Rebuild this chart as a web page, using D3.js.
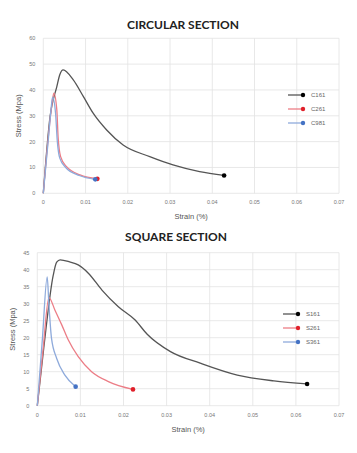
<!DOCTYPE html>
<html>
<head>
<meta charset="utf-8">
<script src="https://cdn.jsdelivr.net/npm/d3@7"></script>
<style>
  body { margin: 0; background: #fff; }
  text { font-family: "Liberation Sans", Arial, sans-serif; }
</style>
</head>
<body>
<script>
// tick labels
var strainTicks = [0, 0.01, 0.02, 0.03, 0.04, 0.05, 0.06, 0.07];
var circStressTicks = [0, 10, 20, 30, 40, 50, 60];
var sqStressTicks = [0, 5, 10, 15, 20, 25, 30, 35, 40, 45];

// circular section series (strain, stress)
var c161Strain = [0, 0.0016, 0.0032, 0.0039, 0.0047, 0.0071, 0.0095, 0.0118, 0.015, 0.0189, 0.0252, 0.0307, 0.037, 0.0428];
var c161Stress = [0, 29.7, 41.3, 45.9, 47.8, 43.9, 37.4, 31, 24.5, 18.7, 14.2, 11.0, 8.4, 6.9];
var c261Strain = [0, 0.0012, 0.002, 0.0025, 0.0032, 0.0035, 0.0041, 0.0055, 0.0087, 0.0128];
var c261Stress = [0, 22, 34, 38.8, 32.3, 21.9, 14.2, 10.3, 7.1, 5.6];
var c981Strain = [0, 0.0012, 0.0018, 0.0022, 0.0029, 0.0033, 0.0039, 0.0053, 0.0085, 0.0123];
var c981Stress = [0, 21, 32, 37.2, 31, 20.5, 13.6, 10, 6.9, 5.4];

// square section series
var s161Strain = [0, 0.0015, 0.0037, 0.0045, 0.0053, 0.0075, 0.0095, 0.0119, 0.015, 0.0188, 0.0227, 0.0255, 0.0309, 0.0378, 0.0464, 0.0549, 0.0626];
var s161Stress = [0, 17, 38.4, 42.2, 42.9, 42.3, 41.4, 38.9, 34, 29.1, 25.2, 21.0, 15.9, 12.5, 9.0, 7.3, 6.4];
var s261Strain = [0, 0.0013, 0.0027, 0.0041, 0.0057, 0.0072, 0.0095, 0.0126, 0.0165, 0.0222];
var s261Stress = [0, 16, 31.8, 28.1, 23.7, 19.3, 14.4, 10, 7.1, 4.8];
var s361Strain = [0, 0.0012, 0.0023, 0.0027, 0.0033, 0.0045, 0.0064, 0.0089];
var s361Stress = [0, 20, 37.9, 29.6, 19.8, 13.9, 9.0, 5.6];

var circNames = ["C161", "C261", "C981"];
var sqNames = ["S161", "S261", "S361"];
var lineColors = ["#555555", "#ec7d86", "#8eaadb"];
var dotColors = ["#000000", "#e0202a", "#4472c4"];

function zipSeries(xs, ys) {
    return xs.map(function(x, i) { return [x, ys[i]]; });
}

var svg = d3.select("body").append("svg")
    .attr("width", 357)
    .attr("height", 453);

function drawChart(opt) {
    var g = svg.append("g");
    var x = d3.scaleLinear().domain([0, 0.07]).range([opt.left, 339]);
    var y = d3.scaleLinear().domain([0, opt.yMax]).range([opt.bottom, opt.top]);

    // grid
    g.selectAll(".hg").data(opt.yTicks).enter().append("line")
        .attr("x1", x(0)).attr("x2", x(0.07))
        .attr("y1", function(d) { return y(d); })
        .attr("y2", function(d) { return y(d); })
        .attr("stroke", "#e2e2e2").attr("stroke-width", 0.8);
    g.selectAll(".vg").data(strainTicks).enter().append("line")
        .attr("y1", y(0)).attr("y2", y(opt.yMax))
        .attr("x1", function(d) { return x(d); })
        .attr("x2", function(d) { return x(d); })
        .attr("stroke", "#e2e2e2").attr("stroke-width", 0.8);

    // tick labels
    g.selectAll(".yt").data(opt.yTicks).enter().append("text")
        .attr("x", x(0) - 8)
        .attr("y", function(d) { return y(d) + 2; })
        .attr("text-anchor", "end")
        .attr("font-size", "5.5px")
        .attr("fill", "#777")
        .text(function(d) { return d; });
    g.selectAll(".xt").data(strainTicks).enter().append("text")
        .attr("x", function(d) { return x(d); })
        .attr("y", y(0) + 11)
        .attr("text-anchor", "middle")
        .attr("font-size", "5.5px")
        .attr("fill", "#777")
        .text(function(d) { return d; });

    // title and axis labels
    g.append("text")
        .attr("x", opt.titleX).attr("y", opt.titleY)
        .attr("text-anchor", "middle")
        .attr("font-size", "12px").attr("font-weight", "bold")
        .attr("fill", "#222")
        .style("font-family", "Lato, sans-serif")
        .text(opt.title);
    g.append("text")
        .attr("x", (x(0) + x(0.07)) / 2).attr("y", opt.xLabelY)
        .attr("text-anchor", "middle")
        .attr("font-size", "7.5px").attr("fill", "#555")
        .text("Strain (%)");
    g.append("text")
        .attr("transform", "translate(" + opt.yLabelX + "," + (opt.top + opt.bottom) / 2 + ") rotate(-90)")
        .attr("text-anchor", "middle")
        .attr("font-size", "7.5px").attr("fill", "#555")
        .text("Stress (Mpa)");

    // series
    var line = d3.line()
        .x(function(d) { return x(d[0]); })
        .y(function(d) { return y(d[1]); })
        .curve(d3.curveMonotoneX);

    opt.series.forEach(function(s, i) {
        g.append("path")
            .datum(s)
            .attr("d", line)
            .attr("fill", "none")
            .attr("stroke", lineColors[i])
            .attr("stroke-width", 1.3);
    });
    opt.series.forEach(function(s, i) {
        var last = s[s.length - 1];
        g.append("circle")
            .attr("cx", x(last[0])).attr("cy", y(last[1]))
            .attr("r", 2.3)
            .attr("fill", dotColors[i]);
    });

    // legend
    var lg = g.selectAll(".lg").data(opt.names).enter().append("g")
        .attr("transform", function(d, i) {
            return "translate(" + opt.legX + "," + (opt.legY + i * 14) + ")";
        });
    lg.append("line")
        .attr("x1", 0).attr("x2", 15)
        .attr("stroke", function(d, i) { return lineColors[i]; })
        .attr("stroke-width", 1.3);
    lg.append("circle")
        .attr("cx", 15).attr("r", 2.2)
        .attr("fill", function(d, i) { return dotColors[i]; });
    lg.append("text")
        .attr("x", 23).attr("y", 2)
        .attr("font-size", "6px").attr("fill", "#666")
        .text(function(d) { return d; });
}

drawChart({
    title: "CIRCULAR SECTION", titleX: 183, titleY: 29,
    left: 43.3, top: 38.3, bottom: 193.3, yMax: 60,
    yTicks: circStressTicks,
    xLabelY: 219, yLabelX: 21,
    names: circNames, legX: 288, legY: 95,
    series: [zipSeries(c161Strain, c161Stress), zipSeries(c261Strain, c261Stress), zipSeries(c981Strain, c981Stress)]
});

drawChart({
    title: "SQUARE SECTION", titleX: 176, titleY: 241,
    left: 37.3, top: 252.7, bottom: 405.7, yMax: 45,
    yTicks: sqStressTicks,
    xLabelY: 432, yLabelX: 15,
    names: sqNames, legX: 283, legY: 314,
    series: [zipSeries(s161Strain, s161Stress), zipSeries(s261Strain, s261Stress), zipSeries(s361Strain, s361Stress)]
});
</script>
</body>
</html>
